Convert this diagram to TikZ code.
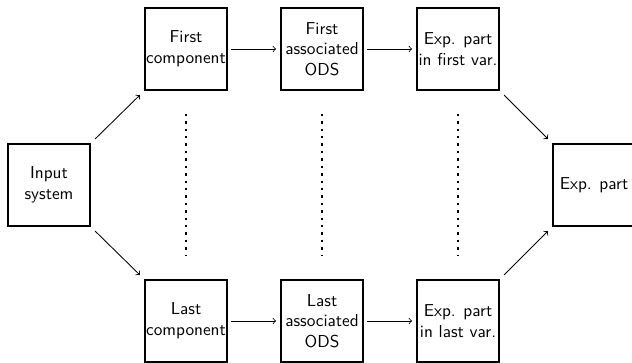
\documentclass[tikz,border=0pt]{standalone}
\begin{document}
\begin{tikzpicture}[x=0.58pt,y=-0.58pt,
  box/.style={draw, line width=1.6pt, minimum width=47.6pt, minimum height=47.6pt, inner sep=0pt, align=center, font=\sffamily},
  arr/.style={->, line width=0.5pt, shorten <=1.5pt, shorten >=2pt},
  darr/.style={->, line width=0.5pt, shorten <=3pt, shorten >=3pt},
  dots/.style={line width=1.4pt, dash pattern=on 1.4pt off 2.9pt, shorten <=13pt, shorten >=13pt}]
\useasboundingbox (0,0) rectangle (632,362);
\node[box] (in) at (49,185) {Input\\system};
\node[box] (fc) at (186,49) {First\\component};
\node[box] (fo) at (322,49) {First\\associated\\ODS};
\node[box] (fe) at (458,49) {Exp. part\\in first var.};
\node[box] (lc) at (186,321) {Last\\component};
\node[box] (lo) at (322,321) {Last\\associated\\ODS};
\node[box] (le) at (458,321) {Exp. part\\in last var.};
\node[box] (ep) at (594,185) {Exp. part};
\draw[darr] (in.north east) -- (fc.south west);
\draw[darr] (in.south east) -- (lc.north west);
\draw[arr] (fc) -- (fo);
\draw[arr] (fo) -- (fe);
\draw[arr] (lc) -- (lo);
\draw[arr] (lo) -- (le);
\draw[darr] (fe.south east) -- (ep.north west);
\draw[darr] (le.north east) -- (ep.south west);
\draw[dots] (fc) -- (lc);
\draw[dots] (fo) -- (lo);
\draw[dots] (fe) -- (le);
\end{tikzpicture}
\end{document}
